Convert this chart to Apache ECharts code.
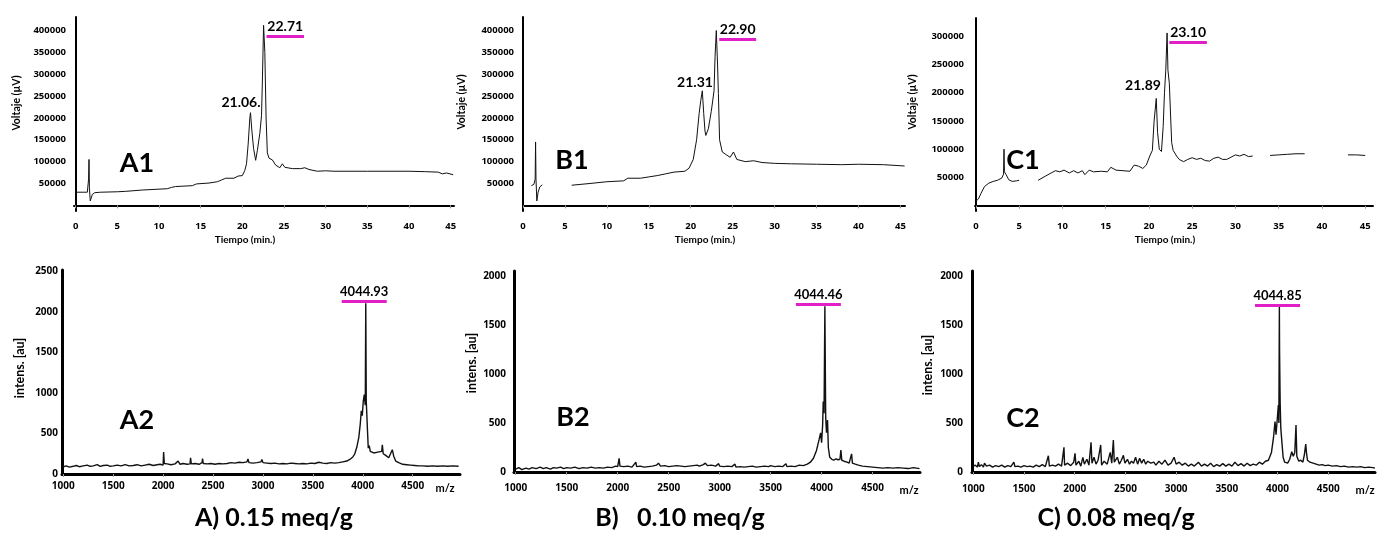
<!DOCTYPE html>
<html>
<head>
<meta charset="utf-8">
<title>HPLC / MALDI</title>
<script src="https://cdn.jsdelivr.net/npm/echarts@6/dist/echarts.min.js"></script>
<style>
  html, body { margin: 0; padding: 0; background: #fff; }
  #chart { width: 1379px; height: 535px; }
</style>
</head>
<body>
<div id="chart"></div>
<script>
// tick labels
var timeTicks = [0, 5, 10, 15, 20, 25, 30, 35, 40, 45];
var voltTicksAB = [50000, 100000, 150000, 200000, 250000, 300000, 350000, 400000];
var voltTicksC = [50000, 100000, 150000, 200000, 250000, 300000];
var mzTicks = [1000, 1500, 2000, 2500, 3000, 3500, 4000, 4500];
var intensTicksA = [0, 500, 1000, 1500, 2000, 2500];
var intensTicksBC = [0, 500, 1000, 1500, 2000];

// chromatograms [min, µV]
var a1Trace = [[0,30000],[1.4,30000],[1.5,33000],[1.55,60000],[1.6,105000],[1.65,40000],[1.75,10000],[1.85,13000],[2.0,25000],[2.3,29000],[3,30000],[5,31000],[6,32000],[8,35000],[10,37000],[11,38000],[11.5,41000],[12,43000],[14,45000],[14.5,49000],[16,51000],[17,54000],[17.5,58000],[18,62000],[19,62000],[19.5,67000],[20,68000],[20.3,80000],[20.5,95000],[20.7,140000],[20.9,200000],[20.98,212000],[21.15,170000],[21.35,130000],[21.6,103000],[21.8,125000],[22.1,165000],[22.3,205000],[22.4,280000],[22.55,412000],[22.7,350000],[22.85,200000],[23.0,120000],[23.2,108000],[23.6,104000],[24,92000],[24.5,86000],[24.8,95000],[25.1,87000],[26,84000],[27,84000],[27.5,86000],[28,82000],[29,78000],[30,79000],[31,78000],[35,78000],[40,78000],[42,77000],[43.5,76000],[44,72000],[44.5,74000],[45.3,70000]];
var b1Trace = [[1.0,45000],[1.3,48000],[1.45,60000],[1.5,145000],[1.55,60000],[1.65,10000],[1.8,30000],[2.0,42000],[2.3,47000],[3.5,'-'],[5.8,46000],[8,50000],[10,54000],[12,56000],[12.5,62000],[14,62000],[15,65000],[16,68000],[17,72000],[18,76000],[19.3,78000],[19.8,85000],[20.3,105000],[20.7,150000],[21.0,210000],[21.2,240000],[21.38,262000],[21.55,210000],[21.7,170000],[21.8,160000],[22.1,175000],[22.45,215000],[22.78,262000],[22.9,340000],[23.05,400000],[23.2,321000],[23.3,256000],[23.44,150000],[23.76,122000],[24.3,115000],[24.7,110000],[25.1,122000],[25.5,105000],[26.5,100000],[27.5,102000],[28.5,98000],[30,96000],[32,95000],[35,94000],[38,93000],[40,94000],[43,93000],[45.5,90000]];
var c1Trace = [[0,8000],[0.3,12000],[0.6,22000],[1,34000],[1.5,40000],[2,43000],[2.5,45000],[3,49000],[3.2,56000],[3.25,100000],[3.3,60000],[3.5,55000],[3.8,46000],[4.2,43000],[4.7,44000],[5,45000],[6,'-'],[7.2,45000],[8,52000],[8.7,58000],[9.2,62000],[9.7,60000],[10.2,63000],[10.8,58000],[11.3,62000],[11.8,58000],[12.3,62000],[12.6,55000],[13.1,63000],[13.6,60000],[14.5,61000],[15.2,60000],[15.6,68000],[16.2,63000],[17,62000],[17.8,61000],[18.3,72000],[18.8,70000],[19.3,66000],[19.7,72000],[20.1,88000],[20.4,98000],[20.6,150000],[20.85,190000],[21.0,130000],[21.2,100000],[21.45,96000],[21.65,140000],[21.8,200000],[21.95,240000],[22.1,306000],[22.2,240000],[22.36,217000],[22.63,112000],[22.8,98000],[23.2,88000],[23.5,82000],[24,78000],[24.5,82000],[25,85000],[25.5,82000],[26,84000],[26.5,80000],[27,79000],[27.5,84000],[28,86000],[28.5,82000],[29,82000],[29.5,86000],[30,90000],[30.5,88000],[31,91000],[31.5,87000],[32,88000],[33,'-'],[34,89000],[35,90000],[36,91000],[37,92000],[38,92000],[39,'-'],[43,90000],[44,90000],[45,89000]];

// MALDI spectra [m/z, intens.]
var a2Spectrum = [[1000,90],[1030,100],[1060,85],[1100,95],[1130,105],[1160,90],[1200,100],[1240,110],[1270,95],[1300,100],[1340,115],[1370,95],[1400,105],[1440,110],[1470,95],[1500,100],[1540,110],[1580,100],[1620,115],[1660,100],[1700,105],[1740,115],[1780,100],[1820,110],[1860,120],[1900,105],[1940,115],[1970,120],[2000,110],[2005,270],[2012,130],[2040,125],[2080,115],[2120,125],[2150,160],[2170,120],[2200,130],[2240,120],[2270,125],[2275,200],[2282,125],[2320,130],[2360,120],[2390,140],[2395,190],[2402,130],[2440,125],[2480,130],[2520,120],[2560,130],[2600,125],[2640,130],[2680,140],[2700,150],[2720,135],[2760,145],[2800,140],[2840,150],[2850,185],[2860,140],[2900,135],[2940,140],[2980,150],[2990,180],[3000,140],[3040,135],[3080,130],[3120,135],[3160,125],[3200,130],[3240,125],[3280,135],[3320,130],[3360,125],[3400,130],[3440,125],[3480,135],[3500,150],[3520,130],[3560,145],[3600,135],[3640,130],[3680,140],[3720,135],[3760,140],[3800,150],[3840,160],[3870,180],[3900,210],[3920,250],[3940,330],[3960,450],[3975,620],[3985,780],[3995,720],[4005,900],[4015,980],[4025,850],[4030,2110],[4035,900],[4045,600],[4055,320],[4065,350],[4075,280],[4090,300],[4110,260],[4130,280],[4150,270],[4170,290],[4190,280],[4196,360],[4205,250],[4230,230],[4260,200],[4280,190],[4296,300],[4310,220],[4330,160],[4360,140],[4400,120],[4440,115],[4480,110],[4520,105],[4560,100],[4600,100],[4650,95],[4700,100],[4750,95],[4800,100],[4850,95],[4900,100],[4960,95]];
var b2Spectrum = [[1000,30],[1030,45],[1060,25],[1100,40],[1130,30],[1160,45],[1200,35],[1240,50],[1270,35],[1300,45],[1340,30],[1370,45],[1400,40],[1440,50],[1470,35],[1500,45],[1540,40],[1580,50],[1620,35],[1660,45],[1700,40],[1740,50],[1780,40],[1820,45],[1860,40],[1900,50],[1940,45],[1980,60],[2000,55],[2014,140],[2022,60],[2060,55],[2100,60],[2140,50],[2178,100],[2186,55],[2220,60],[2260,50],[2300,55],[2340,60],[2380,70],[2400,90],[2420,60],[2460,65],[2500,55],[2540,60],[2580,65],[2620,60],[2660,55],[2700,60],[2740,65],[2780,70],[2800,60],[2840,75],[2860,90],[2880,65],[2920,70],[2960,60],[2990,85],[3000,60],[3040,55],[3080,60],[3120,55],[3150,80],[3160,50],[3200,55],[3240,50],[3280,55],[3320,60],[3360,50],[3400,55],[3440,60],[3480,55],[3500,65],[3540,55],[3580,60],[3620,55],[3650,85],[3660,55],[3700,60],[3740,55],[3780,70],[3820,65],[3860,80],[3890,100],[3920,140],[3950,220],[3975,330],[3990,400],[4000,300],[4010,480],[4016,720],[4024,600],[4032,1690],[4040,560],[4048,400],[4058,530],[4066,250],[4080,150],[4100,130],[4120,120],[4140,135],[4160,125],[4180,130],[4189,225],[4198,120],[4220,110],[4250,100],[4270,90],[4294,185],[4302,90],[4330,80],[4360,70],[4400,60],[4450,55],[4500,50],[4550,45],[4600,40],[4650,45],[4700,40],[4750,45],[4800,40],[4850,35],[4900,45],[4960,35]];
var c2Spectrum = [[1000,60],[1020,70],[1040,50],[1050,100],[1060,55],[1080,75],[1100,50],[1110,90],[1130,60],[1160,70],[1190,50],[1220,65],[1250,55],[1280,70],[1310,50],[1340,65],[1370,55],[1400,100],[1410,55],[1440,60],[1470,50],[1500,65],[1530,55],[1560,60],[1590,50],[1620,70],[1650,55],[1680,75],[1710,55],[1740,166],[1750,60],[1780,70],[1810,60],[1840,80],[1870,60],[1894,252],[1900,70],[1930,90],[1960,65],[1990,100],[2003,190],[2012,70],[2040,110],[2060,60],[2080,150],[2095,80],[2120,130],[2140,70],[2161,302],[2170,90],[2190,150],[2210,80],[2230,120],[2256,276],[2265,70],[2290,110],[2320,80],[2350,200],[2365,90],[2381,327],[2390,100],[2420,150],[2440,80],[2460,120],[2480,170],[2495,90],[2520,130],[2540,80],[2560,110],[2580,90],[2600,150],[2620,80],[2640,140],[2660,90],[2680,130],[2700,80],[2720,110],[2750,90],[2780,100],[2800,70],[2830,110],[2860,80],[2890,120],[2920,70],[2950,90],[2980,150],[3000,80],[3030,100],[3060,70],[3090,90],[3120,60],[3150,80],[3180,60],[3220,100],[3250,60],[3280,80],[3310,60],[3340,90],[3370,55],[3400,75],[3430,60],[3460,85],[3490,60],[3520,80],[3550,60],[3580,100],[3610,65],[3640,85],[3670,60],[3700,90],[3730,65],[3760,80],[3790,70],[3820,100],[3850,80],[3880,110],[3910,120],[3940,200],[3960,350],[3975,515],[3985,380],[3995,400],[4008,684],[4013,500],[4016,1228],[4018,1690],[4020,1228],[4026,700],[4032,450],[4040,343],[4055,150],[4070,100],[4085,80],[4100,90],[4120,130],[4140,207],[4155,160],[4170,200],[4182,480],[4190,160],[4210,110],[4230,120],[4250,100],[4265,180],[4278,286],[4285,200],[4295,120],[4320,100],[4350,90],[4380,80],[4410,70],[4440,75],[4470,65],[4500,70],[4540,60],[4580,65],[4620,55],[4660,60],[4700,50],[4740,55],[4780,50],[4820,55],[4860,45],[4900,50],[4940,45],[4960,40]];

// pink peak markers: [label, xStart, xEnd, y]
var a1Mark = ['22.71', 22.9, 27.4, 387000];
var b1Mark = ['22.90', 23.4, 27.8, 380000];
var c1Mark = ['23.10', 22.36, 26.7, 290000];
var a2Mark = ['4044.93', 3789, 4240, 2134];
var b2Mark = ['4044.46', 3748, 4189, 1711];
var c2Mark = ['4044.85', 3778, 4222, 1705];

var FONT = 'Lato';
var TICK_FONT = 'Open Sans';
var PINK = '#e01fc6';

var panels = [
  { box: [74, 17, 380, 194], x: [-0.2, 45.4], y: [-13000, 431000], xt: timeTicks, yt: voltTicksAB, data: a1Trace, mark: a1Mark, big: false, xm: 10, ym: 8 },
  { box: [523, 17, 382, 194], x: [0, 45.55], y: [-13000, 431000], xt: timeTicks, yt: voltTicksAB, data: b1Trace, mark: b1Mark, big: false, xm: 10, ym: 9 },
  { box: [975, 18, 398, 193], x: [-0.1, 45.9], y: [-9400, 332500], xt: timeTicks, yt: voltTicksC, data: c1Trace, mark: c1Mark, big: false, xm: 10, ym: 11 },
  { box: [62, 270, 398, 204], x: [987, 4974], y: [0, 2520], xt: mzTicks, yt: intensTicksA, data: a2Spectrum, mark: a2Mark, big: true, xm: 7, ym: 4 },
  { box: [514, 271, 406, 201], x: [983, 4965], y: [0, 2051], xt: mzTicks, yt: intensTicksBC, data: b2Spectrum, mark: b2Mark, big: true, xm: 11, ym: 8 },
  { box: [972, 271, 403, 201], x: [987, 4961], y: [0, 2051], xt: mzTicks, yt: intensTicksBC, data: c2Spectrum, mark: c2Mark, big: true, xm: 12, ym: 9 }
];

// plain numbers, no thousands separators
function plain(v) { return String(v); }

var grids = [], xAxes = [], yAxes = [], series = [];
panels.forEach(function (p, i) {
  grids.push({ left: p.box[0], top: p.box[1], width: p.box[2], height: p.box[3], containLabel: false });
  var lbl = { color: '#000', fontFamily: TICK_FONT, fontWeight: 'bold', fontSize: p.big ? 10 : 9.5, formatter: plain };
  xAxes.push({
    type: 'value', gridIndex: i, min: p.x[0], max: p.x[1],
    axisLine: { lineStyle: { color: '#000', width: p.big ? 3 : 2 } },
    axisTick: { show: true, length: 3, lineStyle: { color: '#999' }, customValues: p.xt },
    axisLabel: Object.assign({ margin: p.xm, customValues: p.xt }, lbl),
    splitLine: { show: false }
  });
  yAxes.push({
    type: 'value', gridIndex: i, min: p.y[0], max: p.y[1],
    axisLine: { show: true, lineStyle: { color: '#000', width: p.big ? 3 : 2 } },
    axisTick: { show: false },
    axisLabel: Object.assign({ margin: p.ym, customValues: p.yt }, lbl),
    splitLine: { show: false }
  });
  series.push({
    type: 'line', xAxisIndex: i, yAxisIndex: i, data: p.data,
    showSymbol: false, connectNulls: false, silent: true,
    lineStyle: { color: '#111', width: p.big ? 1.4 : 1 },
    markLine: {
      silent: true, symbol: 'none', animation: false,
      lineStyle: { color: PINK, width: 3, type: 'solid' },
      label: {
        show: true, position: 'insideMiddleTop', distance: 3, formatter: p.mark[0],
        color: '#000', fontFamily: FONT, fontWeight: 'bold', fontSize: p.big ? 13 : 14
      },
      data: [[{ coord: [p.mark[1], p.mark[3]] }, { coord: [p.mark[2], p.mark[3]] }]]
    }
  });
});

function txt(x, y, text, size, rot) {
  return {
    type: 'text', x: x, y: y, rotation: rot ? Math.PI / 2 : 0, silent: true,
    style: { text: text, fill: '#000', font: 'bold ' + size + 'px ' + FONT, align: 'center', verticalAlign: 'middle' }
  };
}

var texts = [
  // axis names
  txt(17, 103, 'Voltaje (µV)', 10.5, true), txt(462, 102, 'Voltaje (µV)', 10.5, true), txt(913, 102, 'Voltaje (µV)', 10.5, true),
  txt(245, 240, 'Tiempo (min.)', 10), txt(705, 240, 'Tiempo (min.)', 10), txt(1165, 240, 'Tiempo (min.)', 10),
  txt(20, 368, 'intens. [au]', 12.5, true), txt(472, 363, 'intens. [au]', 12.5, true), txt(928, 365, 'intens. [au]', 12.5, true),
  txt(445, 488, 'm/z', 11), txt(909, 490, 'm/z', 11), txt(1365, 490, 'm/z', 11),
  // first-peak labels
  txt(241, 102, '21.06.', 14), txt(695, 82, '21.31', 14), txt(1143, 85, '21.89', 14),
  // panel tags
  txt(137, 163, 'A1', 27), txt(572, 160, 'B1', 27), txt(1023, 160, 'C1', 27),
  txt(137, 420, 'A2', 27), txt(573, 417, 'B2', 27), txt(1023, 418, 'C2', 27),
  // captions
  txt(274, 518, 'A) 0.15 meq/g', 25), txt(680, 518, 'B)   0.10 meq/g', 25), txt(1116, 518, 'C) 0.08 meq/g', 25)
];

var myChart = echarts.init(document.getElementById('chart'));
myChart.setOption({
  animation: false,
  backgroundColor: '#fff',
  grid: grids,
  xAxis: xAxes,
  yAxis: yAxes,
  series: series,
  graphic: texts
});
</script>
</body>
</html>
